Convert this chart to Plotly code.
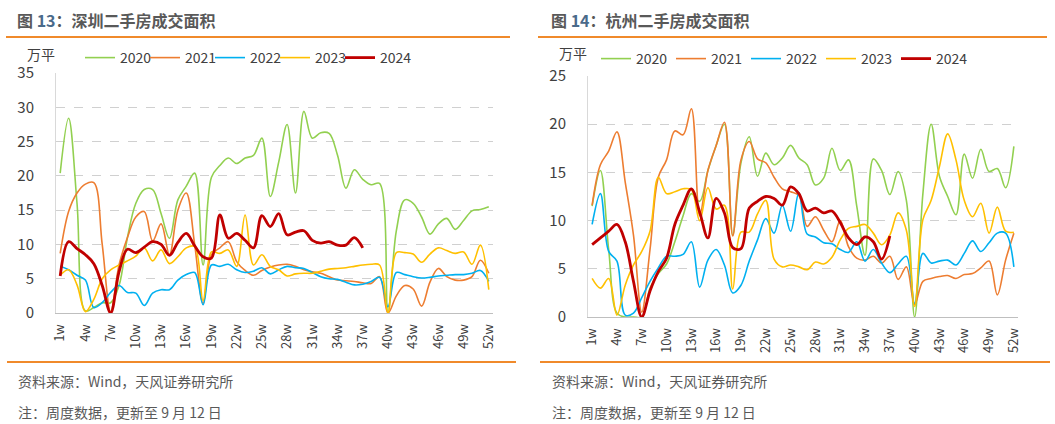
import plotly.graph_objects as go

W, H = 1055, 424

weeks = [f"{i}w" for i in range(1, 53)]
tick_labels = [f"{i}w" for i in range(1, 53, 3)]
years = ["2020", "2021", "2022", "2023", "2024"]

# 深圳二手房成交面积 (万平)
sz_2020 = [20.4, 28.4, 16.0, 0.3, 0.8, 1.5, 1.5, 4.0, 11.0, 16.0,
           18.0, 18.0, 14.5, 10.9, 16.5, 18.5, 20.4, 7.0, 19.8, 21.5,
           22.6, 21.8, 22.6, 23.0, 25.5, 17.0, 22.0, 27.5, 17.5, 29.4,
           25.5, 26.3, 26.2, 23.0, 18.2, 20.9, 19.5, 18.7, 18.9, 0.0,
           12.0, 16.5, 16.0, 14.0, 11.5, 13.0, 13.8, 12.2, 13.5, 14.9,
           15.1, 15.5]
sz_2021 = [8.7, 14.8, 17.5, 18.8, 19.0, 10.0, 0.2, 7.0, 11.0, 14.0,
           14.8, 10.5, 13.0, 8.5, 15.0, 17.5, 10.0, 1.4, 8.5, 9.5,
           10.4, 7.5, 6.2, 5.5, 6.2, 6.7, 7.0, 7.1, 6.8, 6.3,
           6.0, 5.8, 5.3, 4.8, 4.7, 4.6, 4.4, 4.3, 5.3, 0.0,
           2.5, 4.0, 3.5, 1.0, 4.5, 6.5, 5.3, 4.8, 4.8, 5.3,
           7.7, 5.8]
sz_2022 = [6.8, 6.3, 5.5, 4.8, 0.8, 1.5, 3.0, 4.0, 3.0, 2.9,
           1.1, 2.9, 3.4, 3.4, 4.8, 5.6, 5.9, 1.2, 7.0, 6.8,
           7.1, 6.3, 5.9, 6.1, 6.6, 5.7, 6.3, 6.8, 6.6, 6.5,
           5.9, 5.3, 5.0, 4.9, 4.5, 4.1, 4.2, 4.6, 5.2, 0.9,
           5.9, 5.6, 5.3, 5.1, 5.2, 5.4, 5.5, 5.6, 5.6, 5.8,
           6.2, 4.6]
sz_2023 = [5.5, 6.3, 4.1, 0.2, 2.0, 5.0, 6.3, 7.0, 7.6, 8.3,
           9.5, 7.6, 9.2, 7.2, 8.2, 9.5, 9.7, 1.8, 8.9, 8.7,
           9.2, 6.8, 14.3, 7.0, 8.5, 6.8, 6.3, 5.4, 5.7, 5.8,
           5.8, 6.1, 6.4, 6.5, 6.6, 6.8, 7.0, 7.1, 7.0, 0.0,
           8.8, 8.8, 8.6, 7.4, 8.6, 9.5, 9.1, 8.7, 8.9, 7.1,
           9.9, 3.4]
sz_2024 = [5.4, 10.4, 9.4, 8.5, 7.2, 4.0, 0.0, 6.0, 9.3, 8.8,
           9.6, 10.4, 10.0, 8.4, 10.3, 11.6, 9.8, 8.2, 8.0, 14.3,
           10.9, 11.6, 10.6, 9.5, 14.2, 12.6, 14.5, 11.4, 11.8, 12.0,
           10.6, 10.2, 10.4, 9.9, 9.9, 11.0, 9.5]

# 杭州二手房成交面积 (万平)
hz_2020 = [11.5, 15.2, 7.0, 0.4, 0.0, 0.0, 0.0, 3.0, 4.5, 5.5,
           7.8, 10.5, 12.8, 12.0, 15.2, 17.8, 20.0, 8.5, 16.0, 18.7,
           14.6, 17.0, 15.8, 16.5, 17.8, 16.5, 15.8, 13.7, 14.4, 17.5,
           15.2, 16.3, 11.5, 6.4, 16.4, 15.2, 12.7, 15.1, 12.1, 0.0,
           12.8, 20.0, 14.6, 12.5, 10.6, 16.9, 14.4, 17.4, 15.1, 15.4,
           13.4, 17.7]
hz_2021 = [11.6, 15.8, 17.2, 19.2, 14.0, 8.5, 0.5, 7.0, 14.5, 16.3,
           19.3, 18.9, 21.6, 10.5, 15.2, 17.8, 20.2, 8.4, 16.3, 18.2,
           16.4, 16.0, 14.5, 13.3, 13.0, 12.6, 9.4, 10.4, 9.0, 7.8,
           10.0, 7.3, 6.1, 5.9, 6.3, 5.6, 6.3, 3.9, 5.2, 1.3,
           3.7, 4.0, 4.2, 4.3, 4.0, 4.4, 4.5, 5.1, 5.8, 2.3,
           5.9, 8.7]
hz_2022 = [9.6, 12.8, 6.8, 5.8, 0.2, 0.4, 2.0, 3.7, 5.1, 6.3,
           6.3, 6.5, 7.8, 3.1, 5.9, 7.0, 5.4, 2.5, 3.3, 5.8,
           8.0, 10.2, 8.7, 11.6, 8.9, 12.9, 8.6, 8.3, 7.7, 7.6,
           7.0, 6.7, 7.8, 5.8, 7.0, 5.6, 4.6, 5.5, 6.3, 1.4,
           6.6, 5.6, 5.8, 5.9, 5.4, 6.6, 7.9, 6.8, 7.7, 8.7,
           8.7, 5.2]
hz_2023 = [4.0, 3.0, 4.0, 0.2, 3.3, 5.4, 6.8, 8.9, 14.5, 12.8,
           13.0, 13.3, 13.2, 10.0, 13.4, 11.2, 11.6, 2.9, 8.8, 8.8,
           10.7, 12.1, 6.0, 5.2, 5.4, 5.2, 4.9, 5.7, 5.5, 6.2,
           8.0, 9.2, 9.4, 9.6, 8.7, 7.5, 8.5, 10.8, 9.0, 1.1,
           10.1, 12.1, 15.6, 19.0, 16.3, 12.1, 10.4, 11.8, 8.7, 11.4,
           8.9, 8.8]
hz_2024 = [7.5, 8.2, 8.9, 9.6, 7.8, 3.7, 0.0, 2.7, 4.7, 6.1,
           9.6, 11.6, 13.3, 10.9, 8.2, 12.3, 10.8, 7.2, 7.1, 11.3,
           12.0, 12.5, 12.3, 11.6, 13.5, 12.8, 11.0, 11.3, 10.8, 11.0,
           9.8, 8.2, 7.5, 8.3, 7.8, 6.0, 8.4]

colors = ["#92D050", "#ED7D31", "#00B0F0", "#FFC000", "#C00000"]
widths = [1.6, 1.6, 1.6, 1.6, 2.8]

FONT = "Noto Sans CJK SC"
TXT = "#404040"


def px(x):
    return x / W


def py(y):
    return 1 - y / H


fig = go.Figure()

for i, (name, vals, c, lw) in enumerate(zip(years, [sz_2020, sz_2021, sz_2022, sz_2023, sz_2024], colors, widths)):
    fig.add_trace(go.Scatter(x=weeks[:len(vals)], y=vals, name=name, mode="lines",
                             line=dict(color=c, width=lw, shape="spline", smoothing=1),
                             xaxis="x", yaxis="y", legend="legend",
                             legendwidth=45 if i == 4 else None))
for i, (name, vals, c, lw) in enumerate(zip(years, [hz_2020, hz_2021, hz_2022, hz_2023, hz_2024], colors, widths)):
    fig.add_trace(go.Scatter(x=weeks[:len(vals)], y=vals, name=name, mode="lines",
                             line=dict(color=c, width=lw, shape="spline", smoothing=1),
                             xaxis="x2", yaxis="y2", legend="legend2",
                             legendwidth=45 if i == 4 else None))

xcommon = dict(type="category", categoryorder="array", categoryarray=weeks,
               range=[-0.5, 51.5], tickmode="array", tickvals=tick_labels, ticktext=tick_labels,
               tickangle=-90, tickfont=dict(family=FONT, size=13, color=TXT),
               showline=True, linecolor="#bfbfbf", linewidth=1, showgrid=False,
               ticks="outside", ticklen=5, tickcolor="rgba(0,0,0,0)", zeroline=False,
               fixedrange=True, automargin=False)
ycommon = dict(dtick=5, showgrid=True, gridcolor="#d0d0d0", griddash="dash", gridwidth=1,
               showline=True, linecolor="#d9d9d9", linewidth=1, zeroline=False,
               tickfont=dict(family=FONT, size=15, color=TXT),
               ticks="outside", ticklen=18, tickcolor="rgba(0,0,0,0)",
               fixedrange=True, automargin=False)

legcommon = dict(orientation="h", xanchor="left", yanchor="middle",
                 entrywidthmode="pixels", itemwidth=30, bgcolor="rgba(0,0,0,0)",
                 font=dict(family=FONT, size=14, color=TXT), borderwidth=0)

fig.update_layout(
    template="none",
    width=W, height=H, margin=dict(l=0, r=0, t=0, b=0, pad=0, autoexpand=False),
    paper_bgcolor="white", plot_bgcolor="white",
    font=dict(family=FONT, color=TXT),
    xaxis=dict(domain=[px(56), px(493)], anchor="y", **xcommon),
    yaxis=dict(domain=[py(313), py(73)], range=[0, 35], anchor="x", **ycommon),
    xaxis2=dict(domain=[px(588), px(1018)], anchor="y2", **xcommon),
    yaxis2=dict(domain=[py(317), py(76)], range=[0, 25], anchor="x2", **ycommon),
    legend=dict(x=px(80), y=py(58), entrywidth=20, **legcommon),
    legend2=dict(x=px(596), y=py(59), entrywidth=30, **legcommon),
    showlegend=True,
)

orange = "#F08A2B"
shapes = []
for x0, x1, y in [(6, 510, 37), (538, 1047, 37), (7, 516, 362), (540, 1050, 362)]:
    shapes.append(dict(type="line", xref="paper", yref="paper",
                       x0=px(x0), x1=px(x1), y0=py(y), y1=py(y),
                       line=dict(color=orange, width=2)))
fig.update_layout(shapes=shapes)

annos = [
    dict(x=px(15), y=py(20), text="<b>图 <span style='color:#4A6A8A'>13</span>：深圳二手房成交面积</b>",
         font=dict(size=16, color="#595959")),
    dict(x=px(549), y=py(20), text="<b>图 <span style='color:#4A6A8A'>14</span>：杭州二手房成交面积</b>",
         font=dict(size=16, color="#595959")),
    dict(x=px(25), y=py(54), text="万平", font=dict(size=14, color=TXT)),
    dict(x=px(557), y=py(53), text="万平", font=dict(size=14, color=TXT)),
    dict(x=px(16), y=py(381), text="资料来源：Wind，天风证券研究所", font=dict(size=14, color="#595959")),
    dict(x=px(550), y=py(381), text="资料来源：Wind，天风证券研究所", font=dict(size=14, color="#595959")),
    dict(x=px(16), y=py(412), text="注：周度数据，更新至 9 月 12 日", font=dict(size=14, color="#595959")),
    dict(x=px(550), y=py(412), text="注：周度数据，更新至 9 月 12 日", font=dict(size=14, color="#595959")),
]
for a in annos:
    a.update(xref="paper", yref="paper", xanchor="left", yanchor="middle", showarrow=False)
    a["font"]["family"] = FONT
fig.update_layout(annotations=annos)

fig.write_html("out.html")
